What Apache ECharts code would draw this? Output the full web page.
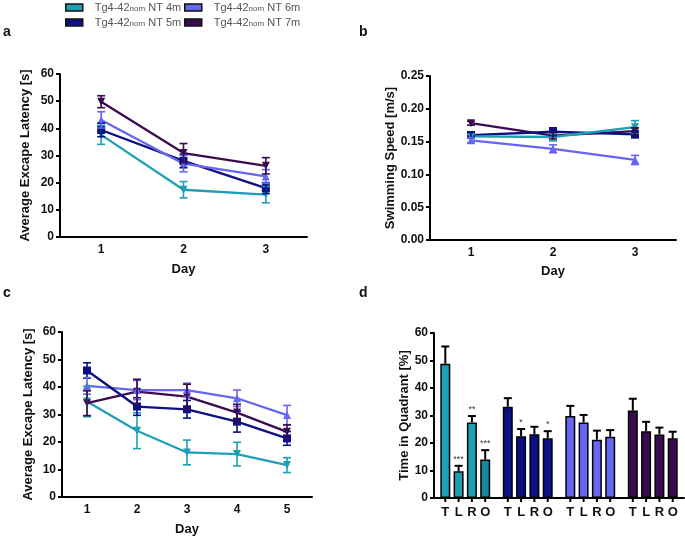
<!DOCTYPE html>
<html><head><meta charset="utf-8">
<script src="https://cdn.jsdelivr.net/npm/echarts@6/dist/echarts.min.js"></script>
<style>html,body{margin:0;padding:0;background:#fff}#c{width:685px;height:539px}</style>
</head><body><div id="c"></div>
<script>
// ---------- data ----------
const groupNames = ['4m', '5m', '6m', '7m'];
const groupColors = ['#1f9fb6', '#0b1183', '#6666f2', '#3b0b4f'];
const days3 = ['1', '2', '3'];
const days5 = ['1', '2', '3', '4', '5'];

// panel a: average escape latency, 3 days
const latA4m = [37.6, 17.4, 15.6]; const errA4m = [3.5, 3.0, 3.0];
const latA5m = [39.4, 28.0, 18.0]; const errA5m = [2.5, 2.5, 2.0];
const latA6m = [43.1, 27.0, 22.3]; const errA6m = [3.0, 3.0, 2.5];
const latA7m = [49.8, 30.9, 26.2]; const errA7m = [2.2, 3.5, 3.0];

// panel b: swimming speed, 3 days
const spdB4m = [0.158, 0.157, 0.172]; const errB4m = [0.003, 0.006, 0.010];
const spdB5m = [0.160, 0.165, 0.161]; const errB5m = [0.004, 0.006, 0.005];
const spdB6m = [0.152, 0.139, 0.122]; const errB6m = [0.004, 0.006, 0.007];
const spdB7m = [0.178, 0.159, 0.166]; const errB7m = [0.003, 0.005, 0.005];

// panel c: average escape latency, 5 days
const latC4m = [34.7, 24.1, 16.2, 15.6, 11.6]; const errC4m = [5.5, 6.5, 4.5, 4.3, 2.7];
const latC5m = [46.0, 32.9, 31.9, 27.4, 21.3]; const errC5m = [2.8, 3.2, 3.2, 3.8, 2.5];
const latC6m = [40.4, 38.9, 38.9, 35.9, 29.8]; const errC6m = [3.0, 3.5, 2.5, 3.0, 3.5];
const latC7m = [34.1, 38.3, 36.5, 30.7, 23.7]; const errC7m = [4.5, 4.5, 4.5, 3.0, 2.5];

// panel d: time in quadrant (per group: 4m,5m,6m,7m)
const quadrants = ['T', 'L', 'R', 'O'];
const timeT = [48.8, 33.2, 29.8, 31.8]; const errT = [6.3, 3.1, 3.7, 4.3];
const timeL = [9.7, 22.5, 27.5, 24.3];  const errL = [2.0, 2.6, 2.7, 3.4];
const timeR = [27.5, 23.2, 21.2, 23.1]; const errR = [2.3, 2.7, 3.3, 2.5];
const timeO = [14.0, 21.7, 22.3, 21.7]; const errO = [3.4, 2.6, 2.4, 2.4];
const sigT = ['', '', '', ''];
const sigL = ['***', '*', '', ''];
const sigR = ['**', '', '', ''];
const sigO = ['***', '*', '', ''];
const barColorsO = ['#17879c', '#0b1183', '#6666f2', '#3b0b4f'];

// ---------- style ----------
const FONT = 'Liberation Sans, Arial, sans-serif';
const BAR_W = 10, BAR_GAP = 0.33;
const BAR_STEP = BAR_W * (1 + BAR_GAP);

const chart = echarts.init(document.getElementById('c'));

function axisCommonX(gridIndex, cats, nameGap) {
  return {
    type: 'category', gridIndex, data: cats, boundaryGap: true,
    name: 'Day', nameLocation: 'middle', nameGap,
    nameTextStyle: { fontFamily: FONT, fontWeight: 'bold', fontSize: 13, color: '#111' },
    axisLine: { lineStyle: { color: '#000', width: 2 } },
    axisTick: { alignWithLabel: true, length: 4, lineStyle: { color: '#000', width: 2 } },
    axisLabel: { fontFamily: FONT, fontWeight: 'bold', fontSize: 12, color: '#111', margin: 7 },
    splitLine: { show: false }
  };
}
function axisCommonY(gridIndex, name, nameGap, max, interval, fmt) {
  return {
    type: 'value', gridIndex, min: 0, max, interval,
    name, nameLocation: 'middle', nameGap,
    nameTextStyle: { fontFamily: FONT, fontWeight: 'bold', fontSize: 13, color: '#111' },
    axisLine: { show: true, lineStyle: { color: '#000', width: 2 } },
    axisTick: { show: true, length: 4, lineStyle: { color: '#000', width: 2 } },
    axisLabel: { fontFamily: FONT, fontWeight: 'bold', fontSize: 12, color: '#111', margin: 6, formatter: fmt },
    splitLine: { show: false }
  };
}

const downTri = 'path://M0,0 L10,0 L5,9 Z';
const symbols = { '4m': downTri, '5m': 'rect', '6m': 'triangle', '7m': downTri };

function lineSeries(name, gi, vals) {
  const c = groupColors[groupNames.indexOf(name)];
  return {
    type: 'line', name, xAxisIndex: gi, yAxisIndex: gi, data: vals,
    symbol: symbols[name], symbolSize: 8,
    itemStyle: { color: c }, lineStyle: { color: c, width: 2.3 },
    z: 3
  };
}
function errRender(params, api) {
  const x = api.value(0);
  const top = api.coord([x, api.value(2)]);
  const bot = api.coord([x, api.value(1)]);
  const c = api.visual('color');
  const hw = 4;
  const st = { stroke: c, lineWidth: 1.6 };
  return {
    type: 'group', children: [
      { type: 'line', shape: { x1: top[0], y1: top[1], x2: bot[0], y2: bot[1] }, style: st },
      { type: 'line', shape: { x1: top[0] - hw, y1: top[1], x2: top[0] + hw, y2: top[1] }, style: st },
      { type: 'line', shape: { x1: bot[0] - hw, y1: bot[1], x2: bot[0] + hw, y2: bot[1] }, style: st }
    ]
  };
}
function errSeries(name, gi, vals, errs) {
  const c = groupColors[groupNames.indexOf(name)];
  return {
    type: 'custom', name, xAxisIndex: gi, yAxisIndex: gi,
    itemStyle: { color: c },
    data: vals.map((v, i) => [i, v - errs[i], v + errs[i]]),
    renderItem: errRender, z: 4
  };
}

function barSeries(name, k, vals, colors) {
  return {
    type: 'bar', name: 'Q' + name, xAxisIndex: 3, yAxisIndex: 3,
    barWidth: BAR_W, barGap: (BAR_GAP * 100) + '%',
    data: vals.map((v, i) => ({ value: v, itemStyle: { color: colors[i] } })),
    itemStyle: { borderColor: '#000', borderWidth: 1.5 },
    z: 2
  };
}
function barErrSeries(k, vals, errs, sig) {
  return {
    type: 'custom', name: 'E' + k, xAxisIndex: 3, yAxisIndex: 3,
    data: vals.map((v, i) => [i, v, v + errs[i]]),
    clip: false,
    renderItem: function (params, api) {
      const i = api.value(0);
      const off = (k - 1.5) * BAR_STEP;
      const p1 = api.coord([i, api.value(1)]);
      const p2 = api.coord([i, api.value(2)]);
      const p0 = api.coord([i, 0]);
      const x = p1[0] + off;
      const st = { stroke: '#000', lineWidth: 2 };
      const ch = [
        { type: 'line', shape: { x1: x, y1: p1[1], x2: x, y2: p2[1] }, style: st },
        { type: 'line', shape: { x1: x - 4, y1: p2[1], x2: x + 4, y2: p2[1] }, style: st },
        { type: 'line', shape: { x1: x, y1: p0[1], x2: x, y2: p0[1] + 4 }, style: st }
      ];
      const s = sig[params.dataIndex];
      if (s) ch.push({ type: 'text', x: x, y: p2[1] - 2,
        style: { text: s, textAlign: 'center', textVerticalAlign: 'bottom', fontSize: 9, fontFamily: FONT, fill: '#333' } });
      return { type: 'group', children: ch };
    },
    z: 5
  };
}

const legendCommon = {
  orient: 'vertical', top: 2, padding: 0, itemWidth: 17, itemHeight: 7, itemGap: 4, icon: 'rect',
  itemStyle: { borderColor: '#111', borderWidth: 1.5 },
  formatter: n => '{p|Tg4-42}{s|nom}{a| NT ' + n + '}',
  textStyle: {
    color: '#555', fontFamily: FONT, fontSize: 11,
    rich: {
      p: { fontSize: 11, color: '#555', fontFamily: FONT, padding: [0, 0, 0, 7] },
      a: { fontSize: 11, color: '#555', fontFamily: FONT },
      s: { fontSize: 8, color: '#555', fontFamily: FONT, verticalAlign: 'bottom', lineHeight: 8 }
    }
  }
};

const option = {
  animation: false,
  backgroundColor: '#fff',
  legend: [
    Object.assign({}, legendCommon, { left: 65, data: ['4m', '5m'] }),
    Object.assign({}, legendCommon, { left: 184, data: ['6m', '7m'] })
  ],
  grid: [
    { left: 60, top: 74, width: 247, height: 163 },
    { left: 430, top: 76, width: 246, height: 164 },
    { left: 62, top: 332, width: 250, height: 165 },
    { left: 434, top: 333, width: 250, height: 165 }
  ],
  xAxis: [
    axisCommonX(0, days3, 26),
    axisCommonX(1, days3, 25),
    axisCommonX(2, days5, 26),
    {
      type: 'category', gridIndex: 3, data: ['4m', '5m', '6m', '7m'], boundaryGap: true,
      axisLine: { lineStyle: { color: '#000', width: 2 } },
      axisTick: { show: false },
      axisLabel: {
        margin: 8, interval: 0,
        formatter: () => quadrants.map(q => '{l|' + q + '}').join(''),
        rich: { l: { width: BAR_STEP, align: 'center', fontFamily: FONT, fontWeight: 'bold', fontSize: 13, color: '#111' } }
      }
    }
  ],
  yAxis: [
    axisCommonY(0, 'Average Excape Latency [s]', 28, 60, 10),
    axisCommonY(1, 'Swimming Speed [m/s]', 33, 0.25, 0.05, v => v.toFixed(2)),
    axisCommonY(2, 'Average Excape Latency [s]', 27, 60, 10),
    axisCommonY(3, 'Time in Quadrant [%]', 23, 60, 10)
  ],
  graphic: [
    { type: 'text', left: 3, top: 25, style: { text: 'a', fontFamily: FONT, fontWeight: 'bold', fontSize: 14, fill: '#111' } },
    { type: 'text', left: 359, top: 25, style: { text: 'b', fontFamily: FONT, fontWeight: 'bold', fontSize: 14, fill: '#111' } },
    { type: 'text', left: 3, top: 286, style: { text: 'c', fontFamily: FONT, fontWeight: 'bold', fontSize: 14, fill: '#111' } },
    { type: 'text', left: 359, top: 286, style: { text: 'd', fontFamily: FONT, fontWeight: 'bold', fontSize: 14, fill: '#111' } }
  ],
  series: [
    lineSeries('4m', 0, latA4m), lineSeries('5m', 0, latA5m), lineSeries('6m', 0, latA6m), lineSeries('7m', 0, latA7m),
    errSeries('4m', 0, latA4m, errA4m), errSeries('5m', 0, latA5m, errA5m), errSeries('6m', 0, latA6m, errA6m), errSeries('7m', 0, latA7m, errA7m),
    lineSeries('7m', 1, spdB7m), lineSeries('6m', 1, spdB6m), lineSeries('5m', 1, spdB5m), lineSeries('4m', 1, spdB4m),
    errSeries('4m', 1, spdB4m, errB4m), errSeries('5m', 1, spdB5m, errB5m), errSeries('6m', 1, spdB6m, errB6m), errSeries('7m', 1, spdB7m, errB7m),
    lineSeries('4m', 2, latC4m), lineSeries('7m', 2, latC7m), lineSeries('6m', 2, latC6m), lineSeries('5m', 2, latC5m),
    errSeries('4m', 2, latC4m, errC4m), errSeries('5m', 2, latC5m, errC5m), errSeries('6m', 2, latC6m, errC6m), errSeries('7m', 2, latC7m, errC7m),
    barSeries('T', 0, timeT, groupColors), barSeries('L', 1, timeL, groupColors), barSeries('R', 2, timeR, groupColors), barSeries('O', 3, timeO, barColorsO),
    barErrSeries(0, timeT, errT, sigT), barErrSeries(1, timeL, errL, sigL), barErrSeries(2, timeR, errR, sigR), barErrSeries(3, timeO, errO, sigO)
  ]
};
chart.setOption(option);
</script></body></html>
